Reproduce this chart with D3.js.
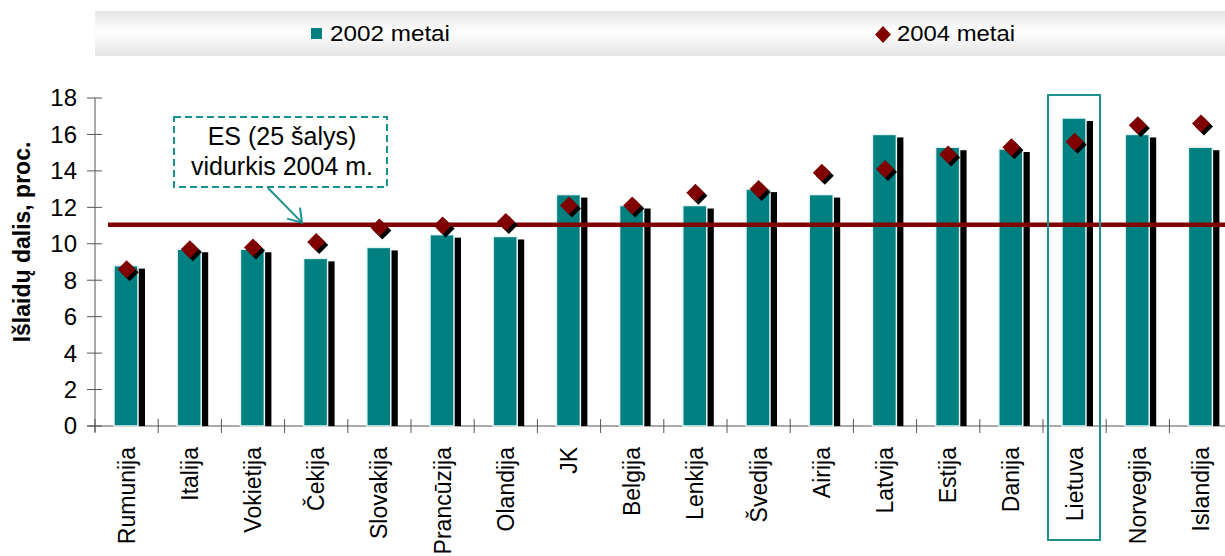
<!DOCTYPE html>
<html>
<head>
<meta charset="utf-8">
<script src="https://d3js.org/d3.v7.min.js"></script>
<style>
  body { margin: 0; background: #fff; }
  svg { display: block; font-family: "Liberation Sans", Arial, sans-serif; }
</style>
</head>
<body>
<svg id="chart" width="1225" height="556"></svg>
<script>
// data
var countries = ["Rumunija", "Italija", "Vokietija", "Čekija", "Slovakija", "Prancūzija", "Olandija", "JK", "Belgija",
                 "Lenkija", "Švedija", "Airija", "Latvija", "Estija", "Danija", "Lietuva", "Norvegija", "Islandija"];
var values2002 = [8.8, 9.7, 9.7, 9.2, 9.8, 10.5, 10.4, 12.7, 12.1, 12.1, 13.0, 12.7, 16.0, 15.3, 15.2, 16.9, 16.0, 15.3];
var values2004 = [8.6, 9.7, 9.8, 10.1, 10.9, 11.0, 11.2, 12.1, 12.1, 12.8, 13.0, 13.9, 14.1, 14.9, 15.3, 15.6, 16.5, 16.6];
var euAverage = 11.05;
var yTicks = [0, 2, 4, 6, 8, 10, 12, 14, 16, 18];
var legendLabels = ["2002 metai", "2004 metai"];
var yTitle = "Išlaidų dalis, proc.";
var noteLines = ["ES (25 šalys)", "vidurkis 2004 m."];
var highlight = "Lietuva";

var teal = "#008080", darkRed = "#800000";

var svg = d3.select("#chart");

var x = d3.scaleBand().domain(countries).range([95, 95 + 18 * 63.2]).padding(0);
var y = d3.scaleLinear().domain([0, 18]).range([426, 98]);

// legend band
var defs = svg.append("defs");
var grad = defs.append("linearGradient").attr("id", "legendGrad").attr("x1", 0).attr("y1", 0).attr("x2", 0).attr("y2", 1);
grad.append("stop").attr("offset", "0%").attr("stop-color", "#e4e4e4");
grad.append("stop").attr("offset", "45%").attr("stop-color", "#ffffff");
grad.append("stop").attr("offset", "100%").attr("stop-color", "#e4e4e4");

svg.append("rect").attr("x", 95).attr("y", 11).attr("width", 1130).attr("height", 45).attr("fill", "url(#legendGrad)");

svg.append("rect").attr("x", 311).attr("y", 28).attr("width", 11).attr("height", 11).attr("fill", teal);
svg.append("text").attr("x", 330).attr("y", 41).attr("font-size", 22)
    .attr("textLength", 120).attr("lengthAdjust", "spacingAndGlyphs").text(legendLabels[0]);

svg.append("path").attr("d", "M883,26 L891,34.5 L883,43 L875,34.5 Z").attr("fill", darkRed);
svg.append("text").attr("x", 897).attr("y", 41).attr("font-size", 22)
    .attr("textLength", 118).attr("lengthAdjust", "spacingAndGlyphs").text(legendLabels[1]);

// y axis
var yAxis = svg.append("g");
yAxis.append("line").attr("x1", 95).attr("x2", 95).attr("y1", y(18)).attr("y2", y(0) + 6)
    .attr("stroke", "#555").attr("stroke-width", 1);
yAxis.selectAll(".ytick").data(yTicks).enter().append("line")
    .attr("x1", 87).attr("x2", 102)
    .attr("y1", function(d) { return y(d); }).attr("y2", function(d) { return y(d); })
    .attr("stroke", "#555").attr("stroke-width", 1);
yAxis.selectAll(".ylab").data(yTicks).enter().append("text")
    .attr("x", 77).attr("y", function(d) { return y(d); }).attr("dy", "0.35em")
    .attr("text-anchor", "end").attr("font-size", 24).text(function(d) { return d; });

svg.append("text")
    .attr("transform", "translate(30," + 242 + ") rotate(-90)")
    .attr("text-anchor", "middle").attr("font-size", 23).attr("font-weight", "bold")
    .text(yTitle);

// x axis line + ticks at band edges
svg.append("line").attr("x1", 87).attr("x2", 1225).attr("y1", y(0)).attr("y2", y(0))
    .attr("stroke", "#555").attr("stroke-width", 1);
svg.selectAll(".xtick").data(countries).enter().append("line")
    .attr("x1", function(d) { return x(d); }).attr("x2", function(d) { return x(d); })
    .attr("y1", y(0) - 7).attr("y2", y(0) + 7)
    .attr("stroke", "#555").attr("stroke-width", 1);

// bars: black shadow then teal bar
var barOff = 19, barW = 24;
svg.selectAll(".shadow").data(countries).enter().append("rect")
    .attr("x", function(d) { return x(d) + barOff + 7; })
    .attr("y", function(d, i) { return y(values2002[i]) + 3; })
    .attr("width", barW)
    .attr("height", function(d, i) { return y(0) - y(values2002[i]) - 3; })
    .attr("fill", "#000");
svg.selectAll(".bar").data(countries).enter().append("rect")
    .attr("x", function(d) { return x(d) + barOff; })
    .attr("y", function(d, i) { return y(values2002[i]); })
    .attr("width", barW)
    .attr("height", function(d, i) { return y(0) - y(values2002[i]); })
    .attr("fill", teal).attr("stroke", "#e6f4f4").attr("stroke-width", 1.5);

// EU average line
svg.append("line").attr("x1", 108).attr("x2", 1225).attr("y1", y(euAverage)).attr("y2", y(euAverage))
    .attr("stroke", darkRed).attr("stroke-width", 4.5);

// highlight box round Lietuva
svg.append("rect")
    .attr("x", x(highlight) + 5).attr("y", 95)
    .attr("width", 52).attr("height", 445)
    .attr("fill", "none").attr("stroke", "#1a9090").attr("stroke-width", 2);

// diamonds 2004
var dr = 9;
function diamond(cx, cy) {
    return "M" + cx + "," + (cy - dr) + " L" + (cx + dr) + "," + cy + " L" + cx + "," + (cy + dr) + " L" + (cx - dr) + "," + cy + " Z";
}
svg.selectAll(".dshadow").data(countries).enter().append("path")
    .attr("d", function(d, i) { return diamond(x(d) + x.bandwidth() / 2 + 3, y(values2004[i]) + 3); })
    .attr("fill", "#000");
svg.selectAll(".dot").data(countries).enter().append("path")
    .attr("d", function(d, i) { return diamond(x(d) + x.bandwidth() / 2, y(values2004[i])); })
    .attr("fill", darkRed);

// category labels
svg.selectAll(".xlab").data(countries).enter().append("text")
    .attr("transform", function(d) { return "translate(" + (x(d) + x.bandwidth() / 2) + ",447) rotate(-90)"; })
    .attr("dy", "0.35em").attr("text-anchor", "end").attr("font-size", 23)
    .text(function(d) { return d; });

// annotation box with arrow
var note = svg.append("g");
note.append("rect").attr("x", 174).attr("y", 117).attr("width", 213).attr("height", 70)
    .attr("fill", "#fff").attr("stroke", "#1a9090").attr("stroke-width", 2).attr("stroke-dasharray", "7,4");
note.selectAll("text").data(noteLines).enter().append("text")
    .attr("x", 282).attr("y", function(d, i) { return 145 + i * 30; })
    .attr("text-anchor", "middle").attr("font-size", 25).text(function(d) { return d; });
var ax = 302, ay = y(euAverage) - 2;
note.append("line").attr("x1", 268).attr("y1", 188).attr("x2", ax).attr("y2", ay)
    .attr("stroke", "#1a9090").attr("stroke-width", 2);
note.append("path").attr("d", "M" + (ax - 15) + "," + (ay - 4) + " L" + ax + "," + ay + " L" + (ax - 2) + "," + (ay - 15))
    .attr("fill", "none").attr("stroke", "#1a9090").attr("stroke-width", 2);
</script>
</body>
</html>
